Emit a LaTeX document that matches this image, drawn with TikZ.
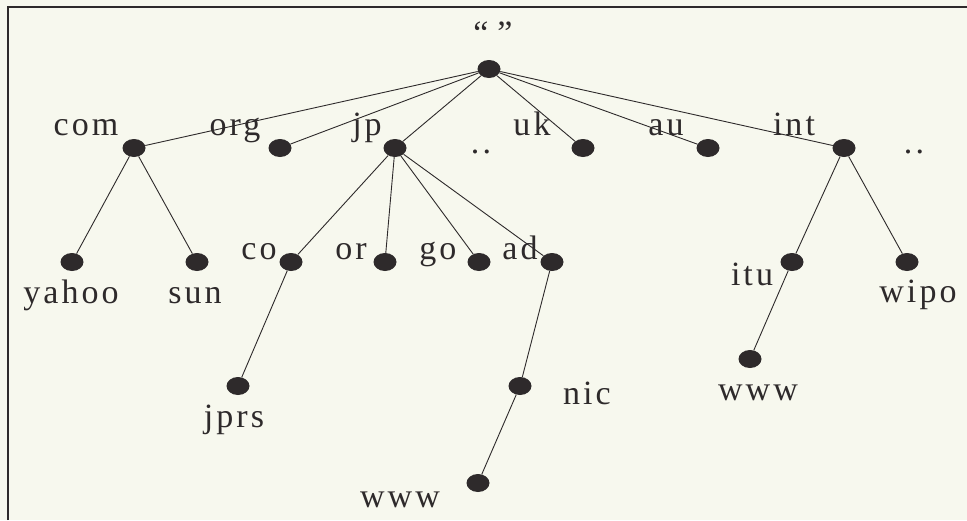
\documentclass[tikz,border=0pt]{standalone}
\usepackage{fontspec}
\usetikzlibrary{shapes.geometric}
\newfontfamily\lblfont[LetterSpace=9]{Liberation Serif}
\definecolor{bgcol}{HTML}{F7F8EE}
\definecolor{ink}{HTML}{2E2A2B}
\begin{document}
\begin{tikzpicture}[x=1pt,y=-1pt,
  dotnode/.style={ellipse,fill=ink,draw=none,minimum width=23pt,minimum height=18pt,inner sep=0pt},
  lbl/.style={anchor=base,inner sep=0pt,text=ink,font=\lblfont\fontsize{34}{40}\selectfont},
  edge/.style={draw=ink,line width=0.9pt}]
\fill[bgcol] (0,0) rectangle (967,520);
\useasboundingbox (0,0) rectangle (967,520);
\draw[ink,line width=2pt] (7.5,520) -- (7.5,7) -- (967,7);
% dots
\node[dotnode] (root) at (489,69) {};
\node[dotnode] (com) at (134,148) {};
\node[dotnode] (org) at (280,148) {};
\node[dotnode] (jp) at (395,148) {};
\node[dotnode] (uk) at (583,148) {};
\node[dotnode] (au) at (708,148) {};
\node[dotnode] (int) at (844,148) {};
\node[dotnode] (yahoo) at (72,262) {};
\node[dotnode] (sun) at (197,262) {};
\node[dotnode] (co) at (291,262) {};
\node[dotnode] (or) at (385,262) {};
\node[dotnode] (go) at (479,262) {};
\node[dotnode] (ad) at (552,262) {};
\node[dotnode] (jprs) at (238,386) {};
\node[dotnode] (nic) at (520,386) {};
\node[dotnode] (wwwa) at (478,483) {};
\node[dotnode] (itu) at (792,262) {};
\node[dotnode] (wipo) at (907,262) {};
\node[dotnode] (wwwb) at (750,359) {};
% edges
\foreach \c in {com,org,jp,uk,au,int} \draw[edge] (root) -- (\c);
\draw[edge] (com) -- (yahoo);
\draw[edge] (com) -- (sun);
\foreach \c in {co,or,go,ad} \draw[edge] (jp) -- (\c);
\draw[edge] (co) -- (jprs);
\draw[edge] (ad) -- (nic);
\draw[edge] (nic) -- (wwwa);
\draw[edge] (int) -- (itu);
\draw[edge] (int) -- (wipo);
\draw[edge] (itu) -- (wwwb);
% labels
\node[lbl] (lroot) at (493,44) {“\hspace{9pt}”};
\node[lbl] (lcom) at (86,135) {com};
\node[lbl] (lorg) at (235,135) {org};
\node[lbl] (ljp) at (367,135) {jp};
\node[lbl] (ldots1) at (481,153) {..};
\node[lbl] (luk) at (532,135) {uk};
\node[lbl] (lau) at (666,135) {au};
\node[lbl] (lint) at (794,135) {int};
\node[lbl] (ldots2) at (914,153) {..};
\node[lbl] (lyahoo) at (71,303) {yahoo};
\node[lbl] (lsun) at (195,303) {sun};
\node[lbl] (lco) at (259,259) {co};
\node[lbl] (lor) at (351,259) {or};
\node[lbl] (lgo) at (438,259) {go};
\node[lbl] (lad) at (520,259) {ad};
\node[lbl] (ljprs) at (234,427) {jprs};
\node[lbl] (lnic) at (587,404) {nic};
\node[lbl] (lwwwa) at (400,507) {www};
\node[lbl] (litu) at (752,285) {itu};
\node[lbl] (lwipo) at (918,302) {wipo};
\node[lbl] (lwwwb) at (758,400) {www};
\end{tikzpicture}
\end{document}
